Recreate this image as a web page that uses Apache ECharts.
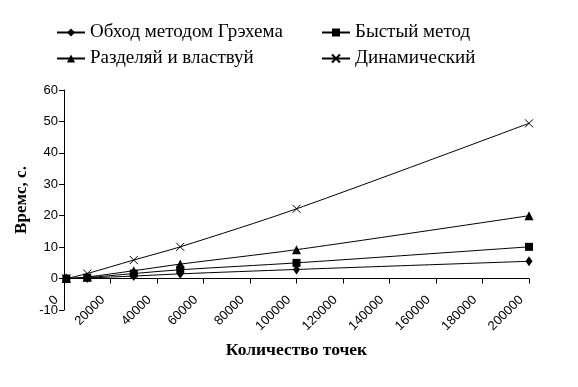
<!DOCTYPE html>
<html><head><meta charset="utf-8">
<script src="https://cdn.jsdelivr.net/npm/echarts@6/dist/echarts.min.js"></script>
<style>html,body{margin:0;padding:0;background:#fff}#c{width:578px;height:387px}</style>
</head><body><div id="c"></div>
<script>
const xPoints = [1000, 10000, 30000, 50000, 100000, 200000];
const graham = [0, 0.2, 0.8, 1.5, 2.9, 5.5];
const quick = [0, 0.3, 1.6, 2.8, 5.0, 10.1];
const divide = [0, 0.5, 2.5, 4.6, 9.2, 20.0];
const dynamic = [0, 1.6, 5.9, 10.1, 22.2, 49.4];
const names = ['Обход методом Грэхема', 'Быстый метод', 'Разделяй и властвуй', 'Динамический'];
const yName = 'Времс, с.';
const xName = 'Количество точек';

const pair = arr => xPoints.map((x, i) => [x, arr[i]]);
const X_PATH = 'path://M0,0L10,10M10,0L0,10';
function mk(name, data, symbol, size, extra) {
  return Object.assign({
    name, type: 'line', data: pair(data), smooth: 0.3,
    symbol, symbolSize: size, showSymbol: true,
    lineStyle: { color: '#000', width: 1 },
    itemStyle: { color: '#000' },
    emphasis: { disabled: true }, animation: false
  }, extra || {});
}
const legendBase = {
  itemWidth: 28, itemHeight: 10, itemGap: 0,
  textStyle: { fontFamily: 'Liberation Serif', fontSize: 19, color: '#000' },
  selectedMode: false
};
const chart = echarts.init(document.getElementById('c'), null, { renderer: 'canvas' });
chart.setOption({
  backgroundColor: '#fff',
  animation: false,
  legend: [
    Object.assign({ data: [names[0]], left: 51, top: 18 }, legendBase),
    Object.assign({ data: [names[1]], left: 316, top: 18 }, legendBase),
    Object.assign({ data: [names[2]], left: 51, top: 44 }, legendBase),
    Object.assign({ data: [names[3]], left: 316, top: 44 }, legendBase)
  ],
  grid: { left: 64, top: 90, right: 49, bottom: 77, containLabel: false, outerBoundsMode: 'none' },
  xAxis: {
    type: 'value', min: 0, max: 200000, interval: 20000,
    axisLine: { onZero: true, lineStyle: { color: '#000', width: 1 } },
    axisTick: { show: true, inside: false, length: 5, lineStyle: { color: '#000' } },
    splitLine: { show: false },
    axisLabel: { rotate: 45, margin: -20, padding: [0, 11, 0, 0], color: '#000',
      fontFamily: 'Liberation Sans', fontSize: 13, showMinLabel: true, showMaxLabel: true,
      formatter: v => String(v) },
    name: xName, nameLocation: 'middle', nameGap: 31, nameMoveOverlap: false,
    nameTextStyle: { fontFamily: 'Liberation Serif', fontWeight: 'bold', fontSize: 17.5, color: '#000' }
  },
  yAxis: {
    type: 'value', min: -10, max: 60, interval: 10,
    axisLine: { show: true, lineStyle: { color: '#000', width: 1 } },
    axisTick: { show: true, inside: false, length: 5, lineStyle: { color: '#000' } },
    splitLine: { show: false },
    axisLabel: { color: '#000', fontFamily: 'Liberation Sans', fontSize: 13, margin: 6 },
    name: yName, nameLocation: 'middle', nameGap: 34, nameRotate: 90, nameMoveOverlap: false,
    nameTextStyle: { fontFamily: 'Liberation Serif', fontWeight: 'bold', fontSize: 17, color: '#000' }
  },
  series: [
    mk(names[0], graham, 'diamond', [7, 10]),
    mk(names[1], quick, 'rect', 8),
    mk(names[2], divide, 'triangle', 9),
    mk(names[3], dynamic, X_PATH, 8, { itemStyle: { color: 'rgba(0,0,0,0)', borderColor: '#000', borderWidth: 1 } })
  ]
});
</script></body></html>
